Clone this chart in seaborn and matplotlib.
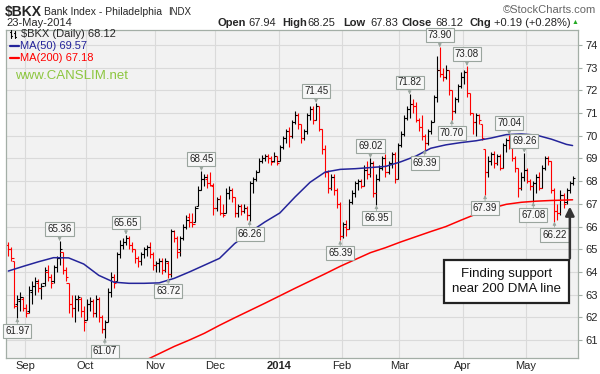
import numpy as np
import pandas as pd
import matplotlib
matplotlib.use('Agg')
import matplotlib.pyplot as plt
import seaborn as sns


# Trading calendar (NYSE holidays removed)

holidays = ['2013-09-02', '2013-11-28', '2013-12-25', '2014-01-01',
            '2014-01-20', '2014-02-17', '2014-04-18']
dates = pd.bdate_range('2013-08-26', '2014-05-23')
dates = dates[~dates.isin(pd.to_datetime(holidays))]


# Daily OHLC

opens = [65.2, 65.0, 64.5, 62.6, 62.7, 62.8, 62.4, 62.3, 63.1, 63.4,
         63.5, 63.3, 63.5, 64.0, 63.8, 63.6, 64.2, 64.6, 64.9, 64.1,
         63.5, 62.6, 62.4, 62.8, 62.8, 62.3, 61.9, 62.6, 62.7, 62.2,
         62.8, 62.0, 61.5, 61.8, 63.1, 63.8, 63.6, 64.8, 65.2, 65.3,
         65.5, 65.2, 65.0, 64.6, 64.5, 64.8, 65.0, 65.1, 64.8, 64.3,
         64.4, 64.5, 64.1, 64.4, 63.9, 65.8, 65.5, 65.0, 65.5, 66.0,
         66.4, 66.2, 66.2, 66.9, 67.6, 68.1, 68.1, 67.9, 67.8, 66.8,
         67.2, 66.6, 66.6, 67.5, 67.6, 67.3, 66.6, 66.9, 66.7, 66.8,
         66.5, 67.9, 68.1, 68.4, 68.9, 69.0, 69.1, 69.0, 68.9, 69.1,
         68.9, 69.5, 69.9, 70.2, 70.0, 70.6, 70.9, 70.5, 69.9, 70.2,
         70.9, 71.2, 70.7, 71.3, 70.3, 69.4, 68.4, 67.7, 68.2, 67.6,
         67.0, 65.6, 66.0, 65.9, 67.1, 67.5, 67.9, 68.0, 67.8, 68.5,
         68.3, 68.8, 67.5, 68.1, 68.6, 69.0, 68.4, 68.8, 69.2, 68.1,
         69.6, 70.1, 70.8, 71.2, 71.4, 71.3, 70.7, 70.4, 70.0, 69.7,
         70.2, 70.6, 71.7, 72.9, 72.7, 72.6, 72.9, 72.0, 71.1, 71.6,
         72.2, 72.6, 72.8, 71.9, 71.0, 70.6, 70.9, 70.5, 69.4, 68.4,
         68.9, 69.2, 68.8, 69.1, 68.6, 69.6, 69.8, 69.5, 69.0, 68.6,
         67.7, 68.2, 68.5, 68.0, 67.8, 67.9, 68.2, 67.7, 68.6, 69.0,
         68.9, 67.6, 66.7, 66.6, 67.4, 67.1, 67.6, 67.94]

highs = [65.3, 65.1, 64.5, 63.0, 63.1, 62.9, 62.6, 63.4, 63.6, 63.8,
         63.7, 63.5, 64.2, 64.3, 63.9, 64.3, 64.7, 65.36, 64.9, 64.2,
         63.5, 63.0, 63.0, 63.0, 62.9, 62.5, 62.8, 62.9, 62.8, 63.0,
         62.9, 62.1, 61.9, 63.3, 64.0, 63.9, 64.9, 65.4, 65.5, 65.65,
         65.6, 65.3, 65.0, 64.7, 64.9, 65.1, 65.2, 65.3, 64.9, 64.5,
         64.6, 64.6, 64.6, 64.5, 65.9, 65.85, 65.6, 65.6, 66.1, 66.5,
         66.6, 66.6, 66.9, 67.8, 68.45, 68.3, 68.3, 68.4, 67.9, 67.3,
         67.4, 67.0, 67.7, 67.8, 67.7, 67.3, 67.0, 67.0, 67.0, 66.9,
         68.0, 68.2, 68.5, 69.0, 69.15, 69.2, 69.2, 69.1, 69.3, 69.1,
         69.6, 70.0, 70.3, 70.4, 70.7, 71.1, 71.0, 70.5, 70.3, 71.0,
         71.3, 71.3, 71.45, 71.3, 70.3, 69.6, 68.5, 68.3, 68.3, 67.7,
         67.1, 66.2, 66.3, 67.2, 67.6, 68.0, 68.1, 68.1, 68.7, 68.9,
         69.02, 68.9, 68.3, 68.7, 69.1, 69.2, 68.9, 69.3, 69.3, 69.7,
         70.2, 70.9, 71.3, 71.82, 71.6, 71.5, 70.8, 70.9, 70.1, 70.3,
         70.7, 71.8, 73.5, 73.9, 73.0, 73.1, 72.9, 72.0, 71.7, 72.3,
         72.8, 72.9, 73.08, 71.9, 71.0, 71.0, 70.95, 70.5, 69.4, 69.1,
         69.3, 69.35, 69.2, 69.2, 69.7, 69.9, 70.04, 69.6, 69.1, 68.6,
         68.4, 69.26, 68.6, 68.1, 68.0, 68.3, 68.4, 68.7, 69.1, 69.1,
         68.9, 67.7, 67.0, 67.6, 67.5, 67.7, 68.0, 68.25]

lows = [64.7, 64.5, 62.4, 61.97, 62.3, 62.3, 62.0, 62.2, 62.6, 63.0,
        63.1, 62.8, 63.4, 63.6, 63.3, 63.5, 64.0, 64.3, 63.9, 63.6,
        62.2, 62.0, 61.8, 62.3, 62.0, 61.4, 61.9, 62.3, 62.0, 62.0,
        61.8, 61.3, 61.07, 61.8, 62.9, 63.3, 63.6, 64.6, 65.0, 65.2,
        65.0, 64.9, 64.4, 64.2, 64.3, 64.6, 64.7, 64.6, 64.1, 64.0,
        64.0, 63.9, 64.0, 63.72, 63.8, 65.3, 64.6, 64.7, 65.4, 65.9,
        66.0, 66.0, 66.2, 66.9, 67.6, 67.8, 67.7, 67.8, 66.5, 66.7,
        66.5, 66.4, 66.6, 67.2, 67.1, 66.4, 66.4, 66.5, 66.6, 66.3,
        66.26, 67.5, 68.0, 68.4, 68.8, 68.9, 68.8, 68.7, 68.85, 68.7,
        68.9, 69.4, 69.7, 69.5, 69.9, 70.5, 70.3, 69.7, 69.8, 70.1,
        70.7, 70.5, 70.7, 70.2, 69.2, 68.2, 67.5, 67.6, 67.4, 66.8,
        65.39, 65.5, 65.6, 65.9, 67.0, 67.3, 67.6, 67.7, 67.8, 68.1,
        68.2, 67.3, 66.95, 68.0, 68.5, 68.2, 68.3, 68.6, 67.9, 68.1,
        69.5, 70.0, 70.7, 70.8, 71.0, 70.6, 70.2, 69.8, 69.39, 69.6,
        70.1, 70.6, 71.5, 72.6, 72.4, 72.5, 71.8, 70.7, 71.0, 71.5,
        72.1, 72.3, 71.7, 70.9, 70.1, 70.0, 70.5, 69.8, 67.39, 68.2,
        68.7, 68.6, 68.7, 68.5, 68.6, 69.3, 69.4, 68.9, 68.4, 67.3,
        67.6, 68.0, 67.9, 67.6, 67.08, 67.5, 67.6, 67.7, 68.5, 68.7,
        67.5, 66.22, 66.3, 66.5, 66.8, 67.0, 67.5, 67.83]

closes = [65.0, 64.6, 62.5, 62.8, 62.9, 62.4, 62.2, 63.2, 63.4, 63.6,
          63.3, 63.4, 64.1, 63.8, 63.5, 64.2, 64.6, 65.0, 64.1, 63.8,
          62.6, 62.4, 62.8, 62.9, 62.3, 61.8, 62.6, 62.7, 62.2, 62.8,
          62.0, 61.5, 61.8, 63.1, 63.8, 63.5, 64.8, 65.2, 65.3, 65.5,
          65.2, 65.0, 64.6, 64.5, 64.8, 65.0, 65.1, 64.8, 64.3, 64.4,
          64.5, 64.1, 64.5, 63.9, 65.8, 65.5, 64.9, 65.5, 66.0, 66.3,
          66.2, 66.1, 66.8, 67.6, 68.1, 68.2, 67.9, 67.85, 66.8, 67.2,
          66.6, 66.5, 67.5, 67.6, 67.3, 66.6, 66.9, 66.7, 66.8, 66.5,
          67.9, 68.1, 68.4, 68.9, 69.0, 69.1, 69.0, 68.85, 69.1, 68.8,
          69.5, 69.9, 70.2, 70.0, 70.6, 70.9, 70.5, 69.9, 70.2, 70.9,
          71.2, 70.7, 71.3, 70.3, 69.4, 68.4, 67.7, 68.2, 67.6, 67.0,
          65.6, 66.1, 65.9, 67.1, 67.5, 67.9, 68.0, 67.8, 68.5, 68.3,
          68.8, 67.5, 68.1, 68.6, 69.0, 68.4, 68.8, 69.2, 68.1, 69.6,
          70.1, 70.8, 71.2, 71.4, 71.3, 70.7, 70.4, 70.0, 69.7, 70.2,
          70.6, 71.7, 72.9, 72.7, 72.6, 72.9, 72.0, 71.1, 71.6, 72.2,
          72.6, 72.8, 71.9, 71.0, 70.6, 70.9, 70.7, 69.9, 68.4, 68.9,
          69.2, 68.8, 69.1, 68.6, 69.6, 69.8, 69.5, 69.0, 68.6, 67.7,
          68.2, 68.5, 68.0, 67.8, 67.9, 68.2, 67.7, 68.6, 69.0, 68.9,
          67.6, 66.7, 66.6, 67.4, 67.0, 67.6, 67.93, 68.12]

# Moving averages (bar index, value)

ma50_idx = [0, 5, 10, 15, 20, 25, 30, 35, 40, 45, 50, 55, 60, 65, 70, 75,
            80, 85, 90, 95, 100, 105, 110, 115, 120, 125, 130, 135, 140,
            145, 150, 155, 160, 165, 170, 175, 180, 185, 187]
ma50 = [64.04, 64.25, 64.45, 64.63, 64.62, 64.35, 63.85, 63.55, 63.5, 63.5,
        63.52, 63.72, 64.0, 64.3, 64.6, 65.25, 65.75, 66.2, 66.6, 67.3,
        67.95, 68.4, 68.52, 68.55, 68.6, 68.65, 68.85, 69.1, 69.45,
        69.6, 69.7, 69.78, 69.9, 70.05, 70.08, 70.03, 69.85, 69.62, 69.57]

ma200_idx = [45, 50, 55, 60, 65, 70, 75, 80, 85, 90, 95, 100, 105, 110, 115,
             120, 125, 130, 135, 140, 145, 150, 155, 160, 165, 170, 175,
             180, 185, 187]
ma200 = [60.08, 60.4, 60.72, 61.0, 61.3, 61.65, 61.98, 62.3, 62.62, 62.95,
         63.28, 63.6, 63.92, 64.25, 64.55, 64.85, 65.07, 65.32, 65.55,
         65.78, 66.0, 66.28, 66.55, 66.8, 66.98, 67.07, 67.12, 67.15,
         67.17, 67.18]

# Labelled swing highs / lows
swing_idx = [3, 17, 32, 39, 53, 64, 80, 102, 110, 120, 122, 133, 138, 143,
             147, 152, 158, 166, 171, 174, 181]
swing_kind = ['L', 'H', 'L', 'H', 'L', 'H', 'L', 'H', 'L', 'H', 'L', 'H',
              'L', 'H', 'L', 'H', 'L', 'H', 'H', 'L', 'L']

month_labels = ['Sep', 'Oct', 'Nov', 'Dec', '2014', 'Feb', 'Mar', 'Apr', 'May']


# Build frame

df = pd.DataFrame({'date': dates, 'open': opens, 'high': highs,
                   'low': lows, 'close': closes})
df['i'] = np.arange(len(df))
prev = df['close'].shift(1).fillna(df['open'])
df['color'] = np.where(df['close'] >= prev, 'black', '#ff0000')

month_first = df.groupby(df['date'].dt.to_period('M'))['i'].first().values[1:]


# Plot

sns.set_style('white')
plt.rcParams['font.family'] = ['Liberation Sans', 'DejaVu Sans']

W, H = 600, 374
fig = plt.figure(figsize=(W / 100, H / 100), dpi=100)
ax = fig.add_axes([6 / W, 1 - 358 / H, 572 / W, 328 / H])
ax.set_facecolor('#f2f2f2')


def px(x, y):
    return x / W, 1 - y / H


def fig_line(x0, y0, x1, y1, color, lw):
    fig.add_artist(plt.Line2D([x0 / W, x1 / W], [1 - y0 / H, 1 - y1 / H],
                              color=color, lw=lw))


# OHLC bars
ax.vlines(df['i'], df['low'], df['high'], colors=df['color'], lw=0.8)
ax.hlines(df['open'], df['i'] - 0.8, df['i'], colors=df['color'], lw=0.8)
ax.hlines(df['close'], df['i'], df['i'] + 0.8, colors=df['color'], lw=0.8)

# moving averages
sns.lineplot(x=ma50_idx, y=ma50, ax=ax, color='#24249a', lw=1.1)
sns.lineplot(x=ma200_idx, y=ma200, ax=ax, color='#ff0000', lw=1.1)

ax.set_xlim(-0.76, 188.8)
ax.set_ylim(60.21, 74.66)

# axes / grid
ax.yaxis.tick_right()
ax.set_yticks(range(61, 75))
ax.set_xticks(month_first + 0.6)
ax.set_xticklabels(month_labels)
for lab in ax.get_xticklabels():
    if lab.get_text() == '2014':
        lab.set_fontweight('bold')
ax.tick_params(axis='x', length=0, pad=2, labelsize=8)
ax.tick_params(axis='y', length=3, pad=2, labelsize=8, color='#a3aea6',
               direction='out')
ax.grid(True, color='#dadada', lw=0.8)
ax.set_axisbelow(True)
for s in ax.spines.values():
    s.set_color('#a3aea6')
    s.set_linewidth(0.9)
ax.set_xlabel('')
ax.set_ylabel('')

# swing labels
for i, k in zip(swing_idx, swing_kind):
    if k == 'H':
        val, off = highs[i], 12
    else:
        val, off = lows[i], -13
    ax.annotate(f'{val:.2f}', xy=(i, val), xytext=(0, off),
                textcoords='offset pixels', ha='center', va='center',
                fontsize=7, color='#222222',
                bbox=dict(boxstyle='square,pad=0.2', fc='#f7f7f7',
                          ec='#9aa59e', lw=0.8),
                arrowprops=dict(arrowstyle='-|>', color='#9aa59e', lw=0.6,
                                shrinkA=0, shrinkB=0, mutation_scale=5))

# callout
ax.text(165.2, 63.58, 'Finding support\nnear 200 DMA line', ha='center',
        va='center', fontsize=9.5, color='#111111', linespacing=1.3,
        bbox=dict(boxstyle='square,pad=0.6', fc='white', ec='#222222',
                  lw=1.6))
ax.annotate('', xy=(186.1, ma200[-1] - 0.3), xytext=(186.1, 64.6),
            arrowprops=dict(arrowstyle='-|>', color='#333333', lw=1.8,
                            mutation_scale=13, shrinkA=0, shrinkB=0))

# header
fig.text(*px(5, 12), '$BKX', fontsize=10, fontweight='bold', va='center')
fig.text(*px(44, 12), 'Bank Index - Philadelphia', fontsize=7.5,
         va='center')
fig.text(*px(168, 12), 'INDX', fontsize=7, va='center')
fig.text(*px(596, 10), '\u00a9StockCharts.com', fontsize=8, color='#666666',
         va='center', ha='right')
fig.text(*px(6, 23), '23-May-2014', fontsize=8, va='center')

ohlc_parts = [(218, 'Open', True), (248, '67.94', False),
              (282, 'High', True), (307, '68.25', False),
              (343, 'Low', True), (370, '67.83', False),
              (402, 'Close', True), (435, '68.12', False),
              (470, 'Chg', True), (494, '+0.19 (+0.28%)', False)]
for x, t, bold in ohlc_parts:
    fig.text(*px(x, 23), t, fontsize=8, va='center',
             fontweight='bold' if bold else 'normal')
fig.text(*px(575, 23), '\u25b2', fontsize=5, color='#22aa22', va='center',
         ha='center')

# in-chart legend (small OHLC glyph + MA swatches)
fig_line(11, 30, 11, 38, 'black', 0.8)
fig_line(10, 32, 11, 32, 'black', 0.8)
fig_line(11, 36, 12, 36, 'black', 0.8)
fig_line(15, 31, 15, 38, 'black', 0.8)
fig_line(14, 33, 15, 33, 'black', 0.8)
fig_line(15, 37, 16, 37, 'black', 0.8)
fig.text(*px(21, 34), '$BKX (Daily) 68.12', fontsize=8, va='center')
fig_line(10, 46, 19, 46, '#24249a', 1.6)
fig.text(*px(20, 46), 'MA(50) 69.57', fontsize=8, va='center',
         color='#24249a')
fig_line(10, 58, 19, 58, '#ff0000', 1.6)
fig.text(*px(20, 58), 'MA(200) 67.18', fontsize=8, va='center',
         color='#ff0000')
fig.text(*px(15, 76), 'www.CANSLIM.net', fontsize=9.5, va='center',
         color='#8cc63f')

fig.savefig('out.png', dpi=100)
